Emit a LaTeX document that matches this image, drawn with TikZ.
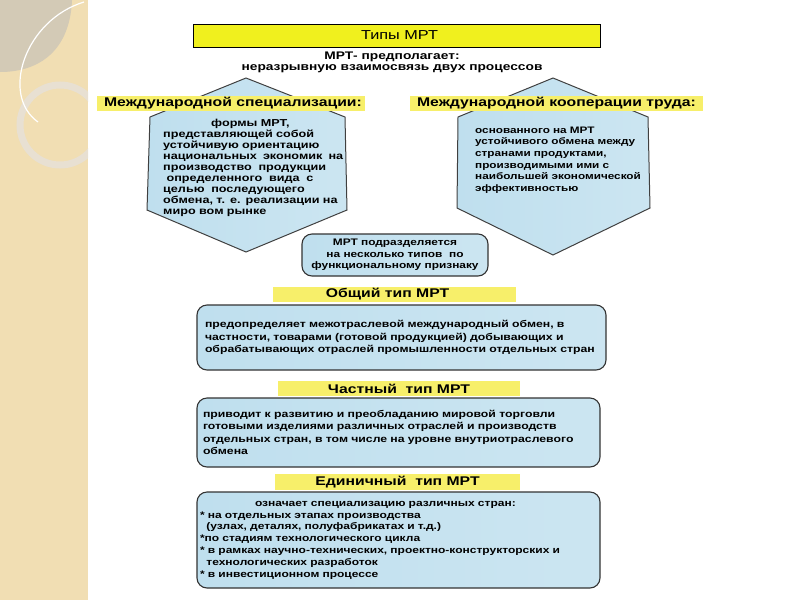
\documentclass[tikz,border=0pt]{standalone}
\usepackage{fontspec}
\setmainfont{Liberation Sans}[FakeStretch=1.25]
\usepackage{tikz}
\usetikzlibrary{positioning}
\definecolor{stripbeige}{HTML}{F1DEB3}
\definecolor{leafgray}{HTML}{D3CAB6}
\definecolor{ringgray}{HTML}{E8E0D2}
\definecolor{titleyellow}{HTML}{F0F01E}
\definecolor{bandyellow}{HTML}{F7EF6A}
\definecolor{boxblue}{HTML}{BFDFEE}

\begin{document}
\begin{tikzpicture}
	[x=1pt,y=-1pt,font=\bfseries,
	band/.style={fill=bandyellow,inner sep=0pt,minimum height=15pt,font=\fontsize{12.6}{14}\selectfont\bfseries},
	hexa/.style={draw=black!75,line width=1pt,left color=boxblue,middle color=white,right color=boxblue!80},
	infobox/.style={draw=black!80,line width=1.1pt,rounded corners=10pt,left color=boxblue,middle color=white,right color=boxblue!80},
	body/.style={font=\fontsize{9.8}{12.5}\selectfont\bfseries,align=left,inner sep=0pt},
	hexbody/.style={font=\fontsize{10.1}{11}\selectfont\bfseries,align=left,inner sep=0pt}]
	\useasboundingbox (0,0) rectangle (800,600);
	
	\fill[stripbeige] (0,0) rectangle (88,600);
	\begin{scope}
		\clip (0,0) rectangle (88,600);
		\fill[leafgray] (0,0) -- (72,0) .. controls (70,50) and (40,72) .. (0,72) -- cycle;
		\draw[ringgray,line width=7pt] (60,125) circle (40);
		\draw[white,line width=1.2pt] (84,2) .. controls (25,20) and (0,95) .. (38,122);
	\end{scope}
	
	\node[draw,line width=1pt,fill=titleyellow,minimum width=407pt,minimum height=23pt,font=\fontsize{13}{15}\selectfont\mdseries] (title) at (396.5,35.5) {\hspace*{6pt}Типы МРТ};
	\node[align=center,inner sep=0pt,font=\fontsize{11}{11.5}\selectfont\bfseries] (premise) at (392,62.5) {МРТ- предполагает:\\неразрывную взаимосвязь двух процессов};
	
	\draw[hexa] (246,78) -- (345,117) -- (347,210) -- (246,252) -- (147,210) -- (150,117) -- cycle;
	\draw[hexa] (553,78) -- (648,117) -- (650,208) -- (553,255) -- (457,208) -- (458,117) -- cycle;
	
	\node[band,minimum width=268pt] (spec) at (231,103.5) {\hspace*{4pt}Международной специализации:};
	\node[band,minimum width=293pt] (coop) at (556.5,103.5) {Международной кооперации труда:};
	
	\node[hexbody,text width=180pt,anchor=north west] (spectext) at (163,119) {\hspace*{48pt}формы МРТ,\\
		представляющей собой\\
		устойчивую ориентацию\\
		национальных\hfill экономик\hfill на\\
		производство\ \ продукции\\
		\ определенного\ \ вида\ \ с\\
		целью\ \ последующего\\
		обмена, т. е. реализации на\\
		миро вом рынке};
	\node[hexbody,font=\fontsize{9.4}{11.6}\selectfont\bfseries,text width=190pt,anchor=west] (cooptext) at (475,160) {основанного на МРТ\\
		устойчивого обмена между\\
		странами продуктами,\\
		производимыми ими с\\
		наибольшей экономической\\
		эффективностью};
	
	\node[infobox,minimum width=186pt,minimum height=42pt,inner sep=2pt,align=center,font=\fontsize{9.5}{11.5}\selectfont\bfseries] (split) at (395,255) {МРТ подразделяется\\на несколько типов\ \ по\\функциональному признаку};
	
	\node[band,minimum width=243pt] (gen) at (394.5,294.5) {Общий тип МРТ\hspace*{14pt}};
	\node[infobox,minimum width=409pt,minimum height=65pt,text width=393pt,body] (gentext) at (401.5,337.5) {предопределяет межотраслевой международный обмен, в\\
		частности, товарами (готовой продукцией) добывающих и\\
		обрабатывающих отраслей промышленности отдельных стран};
	
	\node[band,minimum width=242pt] (part) at (399,388.5) {Частный\ \ тип МРТ};
	\node[infobox,minimum width=403pt,minimum height=69pt,text width=391pt,body] (parttext) at (398.5,432.5) {приводит к развитию и преобладанию мировой торговли\\
		готовыми изделиями различных отраслей и производств\\
		отдельных стран, в том числе на уровне внутриотраслевого\\
		обмена};
	
	\node[band,minimum width=245pt,minimum height=16pt] (unit) at (397.5,482) {Единичный\ \ тип МРТ};
	\node[infobox,minimum width=403pt,minimum height=96pt,text width=397pt,body,font=\fontsize{9.6}{11.8}\selectfont\bfseries] (unittext) at (398.5,540) {\hspace*{55pt}означает специализацию различных стран:\\
		{*} на отдельных этапах производства\\
		\ \ (узлах, деталях, полуфабрикатах и т.д.)\\
		{*}по стадиям технологического цикла\\
		{*} в рамках научно-технических, проектно-конструкторских и\\
		\ \ технологических разработок\\
		{*} в инвестиционном процессе};
\end{tikzpicture}
\end{document}
